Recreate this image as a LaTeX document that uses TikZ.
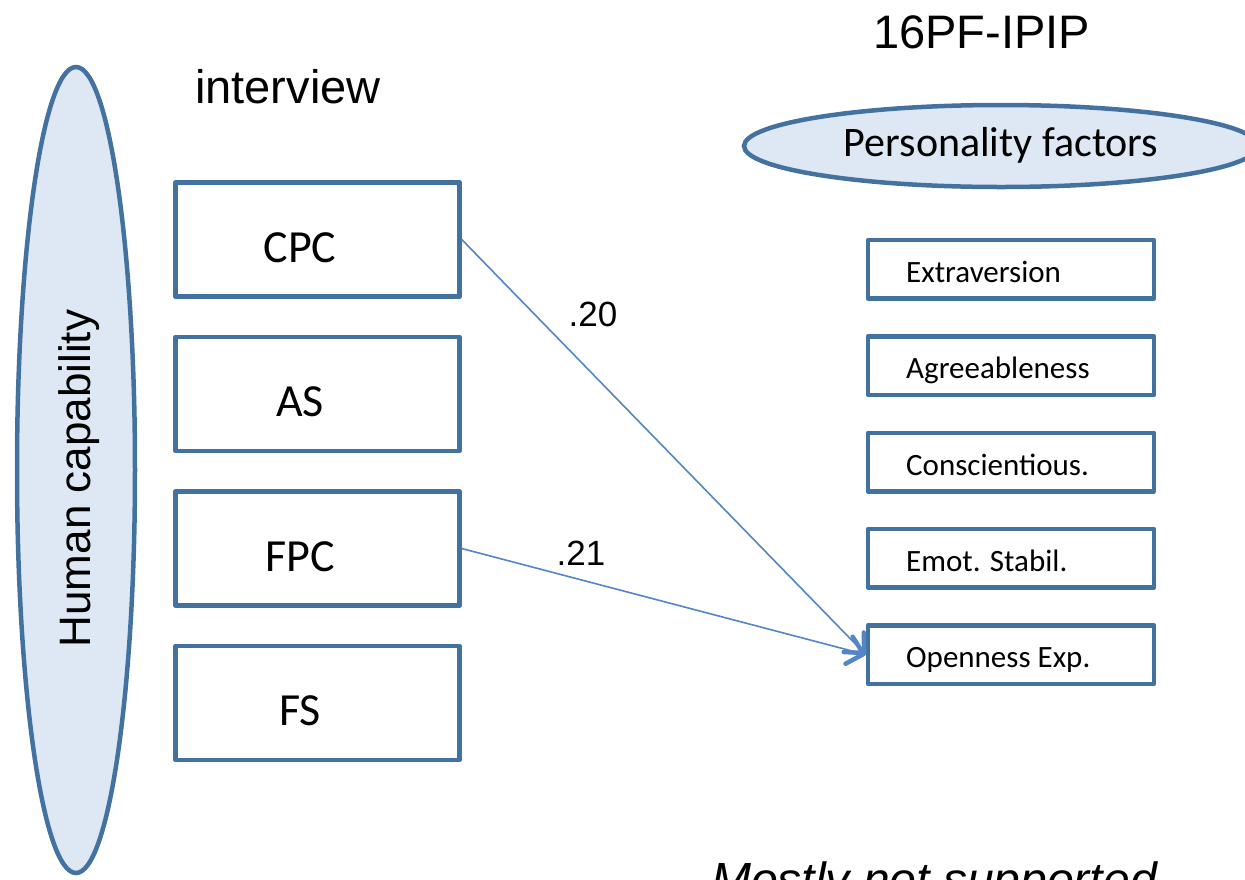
\documentclass[tikz,border=0pt]{standalone}
\usepackage{fontspec}
\setmainfont{Liberation Sans}
\newfontfamily\calfont{Carlito}
\usetikzlibrary{shapes.geometric,arrows.meta,calc}

\definecolor{edgeblue}{RGB}{68,114,160}
\definecolor{fillblue}{RGB}{222,232,244}
\definecolor{linkblue}{RGB}{84,133,196}

\tikzset{
  oval/.style={ellipse, draw=edgeblue, fill=fillblue, line width=4.5pt, inner sep=0pt},
  capbox/.style={rectangle, draw=edgeblue, fill=white, line width=4.5pt, line join=round,
    minimum width=284pt, minimum height=114pt, inner sep=0pt},
  factorbox/.style={rectangle, draw=edgeblue, fill=white, line width=4.5pt, line join=round,
    minimum width=286pt, minimum height=58.5pt, inner sep=0pt},
  boxlabel/.style={font=\calfont\fontsize{46}{54}\selectfont, anchor=base, inner sep=0pt},
  factorlabel/.style={font=\calfont\fontsize{31}{37}\selectfont, anchor=base west, inner sep=0pt},
  heading/.style={font=\fontsize{47}{56}\selectfont, anchor=base west, inner sep=0pt},
  weight/.style={font=\fontsize{35}{42}\selectfont, anchor=base, inner sep=0pt},
  link/.style={draw=linkblue, line width=1.6pt,
    -{Straight Barb[length=15pt, width=28pt, line width=4.5pt, round]}},
}

\begin{document}
\begin{tikzpicture}[x=1pt, y=-1pt]
\useasboundingbox (0,0) rectangle (1245,879);
\clip (0,0) rectangle (1245,879);

% headings
\node[heading] (interview) at (195,103) {interview};
\node[heading] (inventory) at (873,48) {16PF-IPIP};

% construct ovals
\node[oval, minimum width=118pt, minimum height=806pt] (human) at (76,470) {};
\node[font=\fontsize{44}{52}\selectfont, rotate=90, anchor=base, inner sep=0pt]
  (humanlabel) at (90,478.5) {Human capability};

\node[oval, minimum width=514pt, minimum height=82pt] (pers) at (1001,146) {};
\node[font=\calfont\fontsize{42}{50}\selectfont, anchor=base, inner sep=0pt]
  (perslabel) at (1001,156) {Personality factors};

% interview dimensions
\node[capbox] (cpc) at (317.5,239.5) {};
\node[capbox] (as)  at (317.5,394) {};
\node[capbox] (fpc) at (317.5,548.5) {};
\node[capbox] (fs)  at (317.5,703) {};
\node[boxlabel] (cpct) at (300,262) {CPC};
\node[boxlabel] (ast)  at (300,416.5) {AS};
\node[boxlabel] (fpct) at (300,571) {FPC};
\node[boxlabel] (fst)  at (300,725.5) {FS};

% personality factors
\node[factorbox] (ext) at (1011,269.3) {};
\node[factorbox] (agr) at (1011,365.6) {};
\node[factorbox] (con) at (1011,462) {};
\node[factorbox] (emo) at (1011,558.3) {};
\node[factorbox] (opn) at (1011,654.6) {};
\node[factorlabel] (extt) at (906,282.5) {Extraversion};
\node[factorlabel] (agrt) at (906,378.8) {Agreeableness};
\node[factorlabel] (cont) at (906,475.2) {Conscientious.};
\node[factorlabel] (emot) at (906,571.5) {Emot. Stabil.};
\node[factorlabel] (opnt) at (906,667.8) {Openness Exp.};

% significant paths
\path[link] (cpc.east) -- (opn.west);
\path[link] (fpc.east) -- (opn.west);
\node[weight] (w1) at (593,326) {.20};
\node[weight] (w2) at (581,565) {.21};

% conclusion, running off the lower edge
\node[font=\itshape\fontsize{48}{56}\selectfont, anchor=base west, inner sep=0pt]
  (verdict) at (711,896) {Mostly not supported};
\end{tikzpicture}
\end{document}
